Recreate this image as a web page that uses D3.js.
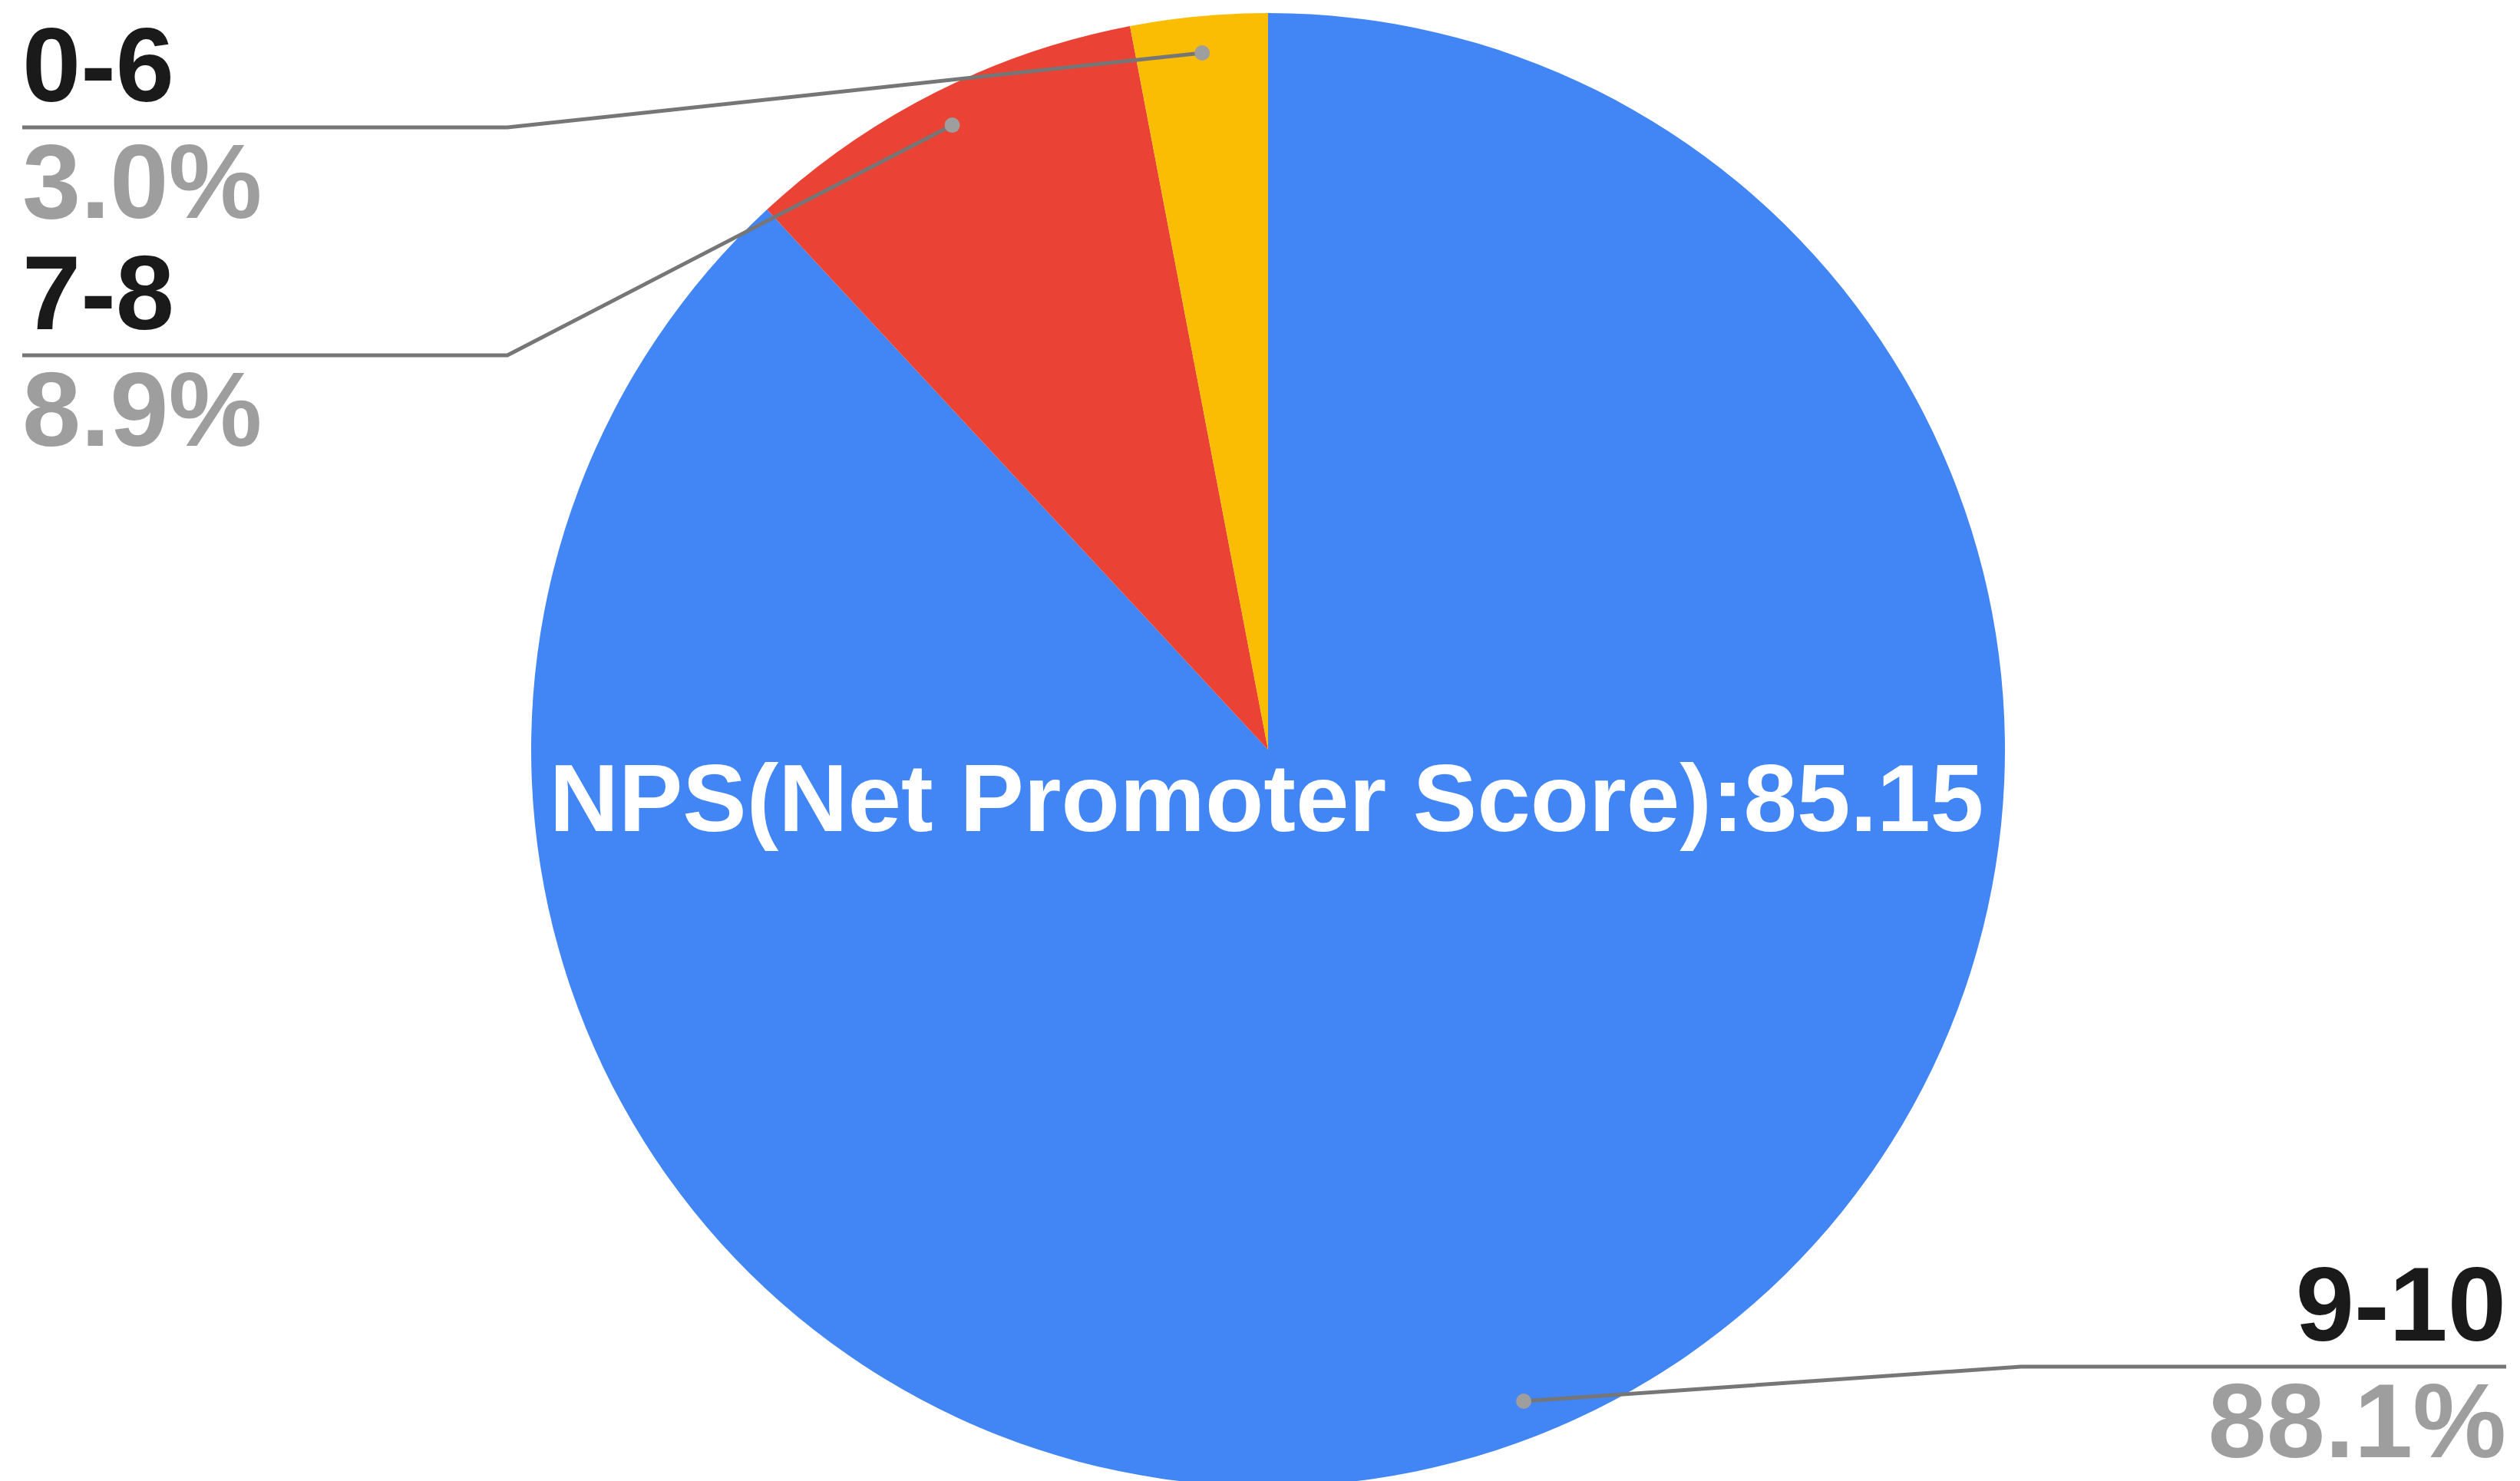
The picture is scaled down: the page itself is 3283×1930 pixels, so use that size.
<!DOCTYPE html>
<html>
<head>
<meta charset="utf-8">
<script src="https://cdn.jsdelivr.net/npm/d3@7"></script>
<style>
  body { margin: 0; background: #fff; }
  text { font-family: "Liberation Sans", Arial, sans-serif; font-weight: bold; }
</style>
</head>
<body>
<div id="chart"></div>
<script>
// data
const categories = ["9-10", "7-8", "0-6"];
const shares = [88.1, 8.9, 3.0];
const colors = ["#4285f4", "#ea4335", "#fbbc04"];
const centerTitle = "NPS(Net Promoter Score):85.15";

const width = 3283, height = 1930;
const cx = 1652, cy = 977, radius = 960;
const labelSize = 137;
const margin = 29,
  rightMargin = 18,
  hLen = 632,        // horizontal part of the leader line
  leftTop = 166,     // first left leader line y
  stepY = 297,       // spacing of stacked labels
  rightBottom = 1781;

const svg = d3.select("#chart").append("svg")
  .attr("width", width)
  .attr("height", height);

const pie = d3.pie().sort(null).value(d => d.v);
const arc = d3.arc().innerRadius(0).outerRadius(radius);
const anchorArc = d3.arc().innerRadius(radius * 0.95).outerRadius(radius * 0.95);

const rows = categories.map((c, i) => ({ name: c, v: shares[i], color: colors[i] }));
const arcs = pie(rows);

const g = svg.append("g").attr("transform", "translate(" + cx + "," + cy + ")");

g.selectAll("path.slice")
  .data(arcs)
  .enter().append("path")
  .attr("class", "slice")
  .attr("d", arc)
  .style("fill", d => d.data.color);

// centre label
svg.append("text")
  .attr("x", cx - 2)
  .attr("y", 1083)
  .attr("text-anchor", "middle")
  .style("font-size", "125px")
  .style("fill", "#fff")
  .text(centerTitle);

// label placement: left side stacked from the top, right side from the bottom
const labels = arcs.map(d => {
  const p = anchorArc.centroid(d);
  return { d: d, x: cx + p[0], y: cy + p[1], side: p[0] < 0 ? "left" : "right" };
});
const left = labels.filter(l => l.side == "left").sort((a, b) => a.y - b.y);
const right = labels.filter(l => l.side == "right").sort((a, b) => b.y - a.y);
left.forEach((l, i) => { l.lineY = leftTop + i * stepY; });
right.forEach((l, i) => { l.lineY = rightBottom - i * stepY; });

const fmt = d3.format(".1f");

labels.forEach(l => {
  const isLeft = l.side == "left";
  const x0 = isLeft ? margin : width - rightMargin;
  const xe = isLeft ? margin + hLen : width - rightMargin - hLen;

  svg.append("path")
    .attr("d", d3.line()([[x0, l.lineY], [xe, l.lineY], [l.x, l.y]]))
    .style("fill", "none")
    .style("stroke", "#767676")
    .style("stroke-width", 5);

  svg.append("circle")
    .attr("cx", l.x)
    .attr("cy", l.y)
    .attr("r", 10)
    .style("fill", "#9e9e9e");

  svg.append("text")
    .attr("x", x0)
    .attr("y", l.lineY - 34)
    .attr("text-anchor", isLeft ? "start" : "end")
    .style("font-size", labelSize + "px")
    .style("fill", "#1a1a1a")
    .text(l.d.data.name);

  svg.append("text")
    .attr("x", x0)
    .attr("y", l.lineY + 118)
    .attr("text-anchor", isLeft ? "start" : "end")
    .style("font-size", labelSize + "px")
    .style("fill", "#9e9e9e")
    .text(fmt(l.d.data.v) + "%");
});
</script>
</body>
</html>
